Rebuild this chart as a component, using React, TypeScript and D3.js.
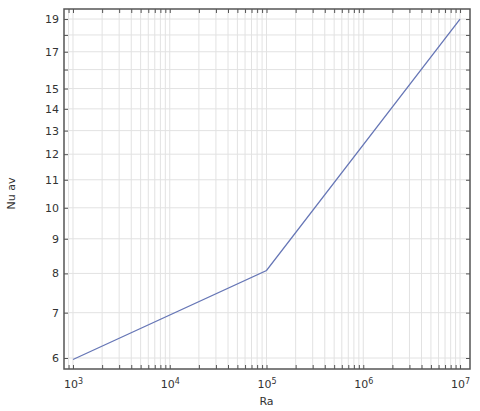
import { useRef, useMemo, useEffect } from 'react';
import * as d3 from 'd3';

// Ra (x) and averaged Nusselt number (y)
const raValues = [1e3, 1e5, 1e7];
const nuValues = [5.97, 8.08, 19.0];

const yTickValues = [6, 7, 8, 9, 10, 11, 12, 13, 14, 15, 16, 17, 18, 19];
const yTickLabels = [6, 7, 8, 9, 10, 11, 12, 13, 14, 15, 17, 19];
const xDecades = [2, 3, 4, 5, 6, 7];

const App = () => {
  const width = 480;
  const height = 411;
  const marginTop = 9;
  const marginRight = 10;
  const marginBottom = 42;
  const marginLeft = 64;

  const boundWidth = width - marginLeft - marginRight;
  const boundHeight = height - marginTop - marginBottom;

  const axesRef = useRef(null);

  const xScale = useMemo(() => {
    return d3.scaleLog()
      .domain([Math.pow(10, 2.907), Math.pow(10, 7.103)])
      .range([0, boundWidth]);
  }, [boundWidth]);

  const yScale = useMemo(() => {
    return d3.scaleLog()
      .domain([5.78, 19.66])
      .range([boundHeight, 0]);
  }, [boundHeight]);

  // minor + major ticks on x (all mantissas 1..9 inside the domain)
  const xTicks = useMemo(() => {
    const out: number[] = [];
    xDecades.forEach(e => {
      for (let m = 1; m <= 9; m++) {
        const v = m * Math.pow(10, e);
        const [a, b] = xScale.domain();
        if (v >= a && v <= b) out.push(v);
      }
    });
    return out;
  }, [xScale]);

  useEffect(() => {
    const g = d3.select(axesRef.current);
    g.selectAll('*').remove();

    const font = 'DejaVu Sans, sans-serif';
    const axisColor = '#555';

    // GRID
    g.append('g')
      .selectAll('line')
      .data(xTicks)
      .join('line')
      .attr('x1', d => xScale(d))
      .attr('x2', d => xScale(d))
      .attr('y1', 0)
      .attr('y2', boundHeight)
      .attr('stroke', '#e2e2e2')
      .attr('stroke-width', 1);
    g.append('g')
      .selectAll('line')
      .data(yTickValues)
      .join('line')
      .attr('x1', 0)
      .attr('x2', boundWidth)
      .attr('y1', d => yScale(d))
      .attr('y2', d => yScale(d))
      .attr('stroke', '#e2e2e2')
      .attr('stroke-width', 1);

    // LINE
    const pts = raValues.map((r, i) => [r, nuValues[i]] as [number, number]);
    const line = d3.line<[number, number]>()
      .x(d => xScale(d[0]))
      .y(d => yScale(d[1]));
    g.append('path')
      .attr('d', line(pts))
      .attr('fill', 'none')
      .attr('stroke', '#6676b6')
      .attr('stroke-width', 1.3);

    const isDecade = (d: number) => Math.abs(Math.log10(d) - Math.round(Math.log10(d))) < 1e-9;

    // X AXIS (bottom, ticks inward)
    const xBottom = g.append('g')
      .attr('transform', `translate(0, ${boundHeight})`)
      .call(d3.axisBottom(xScale).tickValues(xTicks).tickSize(-4).tickSizeOuter(0).tickPadding(11).tickFormat(() => ''));
    xBottom.selectAll('.tick text').each(function (d: any) {
      const t = d3.select(this);
      if (isDecade(d) && d >= 1e3) {
        t.text('10');
        t.append('tspan')
          .attr('dy', '-0.45em')
          .attr('font-size', 8)
          .text(String(Math.round(Math.log10(d))));
      }
    });
    // X AXIS (top)
    g.append('g')
      .call(d3.axisTop(xScale).tickValues(xTicks).tickSize(-4).tickSizeOuter(0).tickFormat(() => ''));

    // Y AXIS (left)
    g.append('g')
      .call(d3.axisLeft(yScale).tickValues(yTickValues).tickSize(-4).tickSizeOuter(0).tickPadding(5)
        .tickFormat(d => (yTickLabels.includes(d as number) ? String(d) : '')));
    // Y AXIS (right)
    g.append('g')
      .attr('transform', `translate(${boundWidth}, 0)`)
      .call(d3.axisRight(yScale).tickValues(yTickValues).tickSize(-4).tickSizeOuter(0).tickFormat(() => ''));

    g.selectAll('.domain').remove();
    g.selectAll('.tick line').attr('stroke', axisColor);
    g.selectAll('.tick text').attr('fill', '#333').attr('font-size', 11).attr('font-family', font);

    // FRAME
    g.append('rect')
      .attr('width', boundWidth)
      .attr('height', boundHeight)
      .attr('fill', 'none')
      .attr('stroke', axisColor)
      .attr('stroke-width', 1.5);

    // AXIS LABELS
    g.append('text')
      .attr('x', xScale(1e5))
      .attr('y', boundHeight + 36)
      .attr('text-anchor', 'middle')
      .attr('font-size', 11)
      .attr('font-family', font)
      .attr('fill', '#333')
      .text('Ra');
    g.append('text')
      .attr('transform', `translate(${-49}, ${yScale(10.5)}) rotate(-90)`)
      .attr('text-anchor', 'middle')
      .attr('font-size', 11)
      .attr('font-family', font)
      .attr('fill', '#333')
      .text('Nu av');
  }, [xScale, yScale, xTicks, boundWidth, boundHeight]);

  return (
    <svg
      width={width}
      height={height}
      style={{ position: 'absolute', left: 0, top: 0, background: '#fff' }}
    >
      <g ref={axesRef} transform={`translate(${marginLeft}, ${marginTop})`} />
    </svg>
  );
};

export default App;
